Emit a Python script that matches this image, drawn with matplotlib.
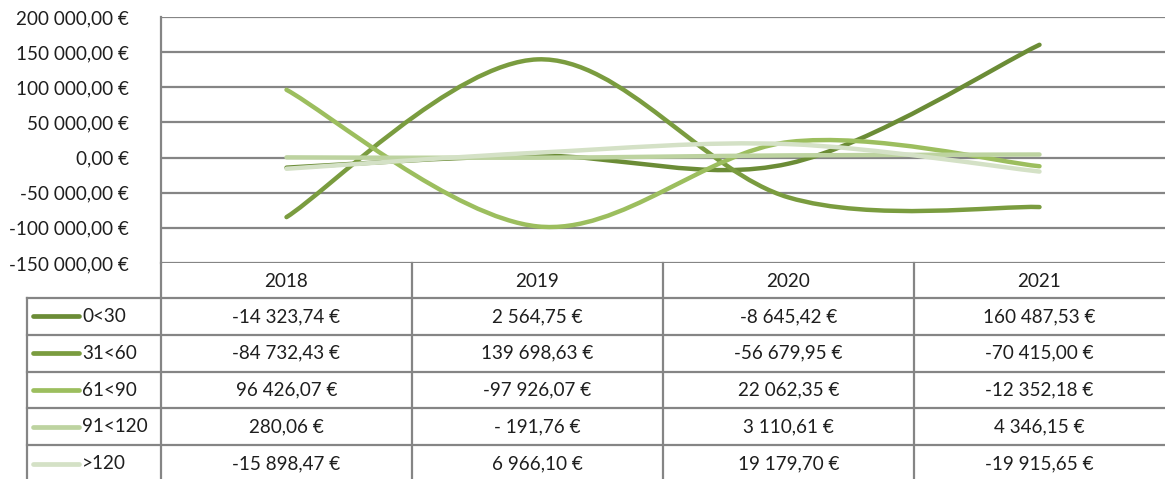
import numpy as np
import matplotlib
matplotlib.use("Agg")
import matplotlib.pyplot as plt
from matplotlib.path import Path
from matplotlib.patches import PathPatch

# ---------------- data ----------------
years = ["2018", "2019", "2020", "2021"]
series_names = ["0<30", "31<60", "61<90", "91<120", ">120"]
s_0_30 = [-14323.74, 2564.75, -8645.42, 160487.53]
s_31_60 = [-84732.43, 139698.63, -56679.95, -70415.00]
s_61_90 = [96426.07, -97926.07, 22062.35, -12352.18]
s_91_120 = [280.06, -191.76, 3110.61, 4346.15]
s_120 = [-15898.47, 6966.10, 19179.70, -19915.65]
all_series = [s_0_30, s_31_60, s_61_90, s_91_120, s_120]
y_ticks = [-150000, -100000, -50000, 0, 50000, 100000, 150000, 200000]

colors = ["#6B8C36", "#7A9C3F", "#9CBE5E", "#BDD3A0", "#D4E1C6"]
text_color = "#1E1E1E"
grid_color = "#858585"
FONT = ["Lato", "DejaVu Sans"]
FS = 13.6


def fmt_eur(v):
    neg = v < 0
    a = abs(v)
    whole = int(a)
    cents = int(round((a - whole) * 100))
    if cents == 100:
        whole += 1
        cents = 0
    s = f"{whole:,}".replace(",", " ")
    s = f"{s},{cents:02d} €"
    if neg:
        s = "-" + (" " if a < 1000 else "") + s
    return s


def smooth_path(xs, ys):
    # Excel-like smoothing: Catmull-Rom converted to cubic Bezier
    xs = np.asarray(xs, float)
    ys = np.asarray(ys, float)
    n = len(xs)
    verts = [(xs[0], ys[0])]
    codes = [Path.MOVETO]
    for i in range(n - 1):
        p0 = np.array([xs[max(i - 1, 0)], ys[max(i - 1, 0)]])
        p1 = np.array([xs[i], ys[i]])
        p2 = np.array([xs[i + 1], ys[i + 1]])
        p3 = np.array([xs[min(i + 2, n - 1)], ys[min(i + 2, n - 1)]])
        c1 = p1 + (p2 - p0) / 6.0
        c2 = p2 - (p3 - p1) / 6.0
        verts += [tuple(c1), tuple(c2), tuple(p2)]
        codes += [Path.CURVE4] * 3
    return Path(verts, codes)


W_PX, H_PX = 1165, 479
fig = plt.figure(figsize=(W_PX / 100, H_PX / 100), dpi=100)

# layout (pixels)
L, R = 161, 1165
TOP, BOT = 17, 263

ax = fig.add_axes([L / W_PX, 1 - BOT / H_PX, (R - L) / W_PX, (BOT - TOP) / H_PX])
ax.set_xlim(-0.5, len(years) - 0.5)
ax.set_ylim(min(y_ticks), max(y_ticks))
ax.set_yticks(y_ticks)
ax.set_yticklabels([fmt_eur(t).strip() for t in y_ticks], family=FONT,
                   fontsize=FS, color=text_color)
ax.tick_params(axis="y", length=0, pad=23)
ax.set_xticks([])
for sp in ["top", "right", "bottom"]:
    ax.spines[sp].set_visible(False)
ax.spines["left"].set_color(grid_color)
ax.spines["left"].set_linewidth(1.6)
for t in y_ticks:
    ax.axhline(t, color=grid_color, lw=1.6, zorder=0)

xs = np.arange(len(years))
for vals, c in zip(all_series, colors):
    p = smooth_path(xs, vals)
    ax.add_patch(PathPatch(p, facecolor="none", edgecolor=c, lw=3.2,
                           capstyle="round", zorder=3))

# ---------------- data table ----------------
tab = fig.add_axes([0, 0, 1, 1])
tab.set_xlim(0, W_PX)
tab.set_ylim(H_PX, 0)
tab.axis("off")

col_w = (R - L) / len(years)
LEG_L = 27
HDR_B = 298
ROW_H = 36.8
row_edges = [HDR_B + i * ROW_H for i in range(len(series_names) + 1)]

lk = dict(color=grid_color, lw=1.6)
# vertical lines
tab.plot([L, L], [BOT, H_PX + 5], **lk)
tab.plot([LEG_L, LEG_L], [HDR_B, H_PX + 5], **lk)
for i in range(1, len(years)):
    x = L + i * col_w
    tab.plot([x, x], [BOT, H_PX + 5], **lk)
# horizontal lines
for y in row_edges:
    tab.plot([LEG_L, W_PX], [y, y], **lk)

# header
for i, yr in enumerate(years):
    tab.text(L + (i + 0.5) * col_w, (BOT + HDR_B) / 2 + 1, yr, ha="center",
             va="center", family=FONT, fontsize=FS, color=text_color)

for r, (name, vals, c) in enumerate(zip(series_names, all_series, colors)):
    yc = row_edges[r] + ROW_H / 2
    tab.plot([33, 79], [yc, yc], color=c, lw=3.4, solid_capstyle="round")
    tab.text(82, yc, name, ha="left", va="center", family=FONT,
             fontsize=FS, color=text_color)
    for i, v in enumerate(vals):
        tab.text(L + (i + 0.5) * col_w, yc, fmt_eur(v), ha="center",
                 va="center", family=FONT, fontsize=FS, color=text_color)

fig.savefig("out.png", dpi=100)
